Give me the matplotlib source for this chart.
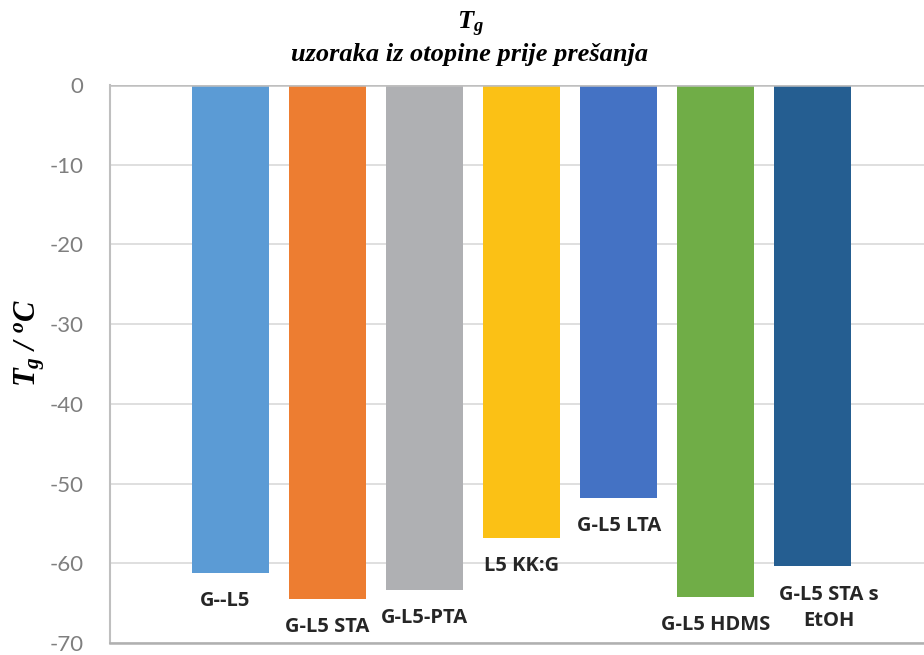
import matplotlib
matplotlib.use("Agg")
import matplotlib.pyplot as plt

categories = ["G--L5", "G-L5 STA", "G-L5-PTA", "L5 KK:G", "G-L5 LTA", "G-L5 HDMS", "G-L5 STA s\nEtOH"]
values = [-61.2, -64.5, -63.4, -56.8, -51.8, -64.2, -60.4]
yticks = [0, -10, -20, -30, -40, -50, -60, -70]
colors = ["#5b9bd5", "#ed7d31", "#afb0b3", "#fbc115", "#4472c4", "#70ad47", "#255e91"]
label_dx_px = [-5, 0, 0, 0, 0, 0, 16]

plt.rcParams['mathtext.fontset'] = 'custom'
plt.rcParams['mathtext.it'] = 'Liberation Serif:italic:bold'
plt.rcParams['mathtext.rm'] = 'Liberation Serif:italic:bold'
plt.rcParams['mathtext.bf'] = 'Liberation Serif:italic:bold'

W, H = 924, 655
fig = plt.figure(figsize=(W / 100, H / 100), dpi=100)
ax = fig.add_axes([110 / W, 1 - 643 / H, 1 - 110 / W, (643 - 85) / H])

x = list(range(len(categories)))
ax.bar(x, values, width=0.793, color=colors, zorder=3)

ax.set_ylim(-70, 0)
ax.set_xlim(-1.241, 7.144)
ax.set_yticks(yticks)
ax.set_yticklabels([str(v) for v in yticks], fontfamily="Lato", fontsize=16, color="#7f7f7f")
ax.tick_params(axis="y", length=0, pad=19)
ax.set_xticks([])
ax.grid(axis="y", color="#d9d9d9", linewidth=1.2, zorder=0)
for s in ["top", "right"]:
    ax.spines[s].set_visible(False)
ax.spines["left"].set_color("#bfbfbf")
ax.spines["left"].set_linewidth(1.5)
ax.spines["bottom"].set_color("#b0b0b0")
ax.spines["bottom"].set_linewidth(1.8)
ax.axhline(0, color="#bfbfbf", linewidth=1.8, zorder=4)

for xi, v, lab, dx in zip(x, values, categories, label_dx_px):
    ax.annotate(lab, xy=(xi, v), xytext=(dx * 0.72, -13.0), textcoords="offset points",
                ha="center", va="top", fontfamily="Open Sans", fontweight="bold",
                fontsize=14.5, color="#262626", linespacing=1.45, multialignment="center")

fig.text(470 / W, 1 - 24 / H, r"$T_g$", ha="center", va="center",
         fontfamily="Liberation Serif", fontstyle="italic", fontweight="bold", fontsize=19)
fig.text(470 / W, 1 - 55 / H, "uzoraka iz otopine prije prešanja", ha="center", va="center",
         fontfamily="Liberation Serif", fontstyle="italic", fontweight="bold", fontsize=19)

fig.text(30 / W, 1 - 343 / H, r"$T_g$ / $^o$C", rotation=90, ha="center", va="center",
         fontfamily="Liberation Serif", fontstyle="italic", fontweight="bold", fontsize=22)

fig.savefig("out.png", dpi=100)
